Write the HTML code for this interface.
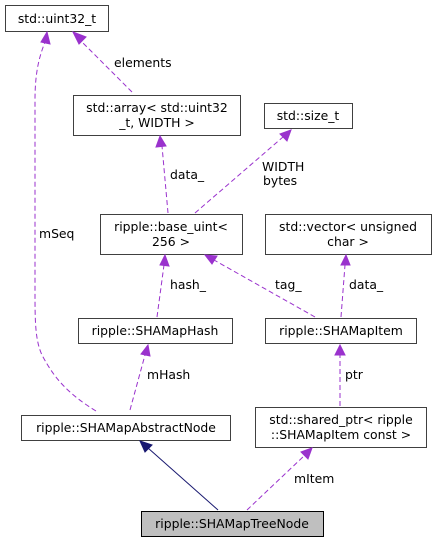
<!DOCTYPE html>
<html><head><meta charset="utf-8"><style>
body{margin:0;background:#fff}
text{font-family:"DejaVu Sans","Liberation Sans",sans-serif;font-size:12.4px;fill:#000}
.b{fill:#fff;stroke:#404040;stroke-width:1}
.d{fill:none;stroke:#9a32cd;stroke-width:1;stroke-dasharray:5,3}
.a{fill:#9a32cd;stroke:#9a32cd}
</style></head><body>
<svg width="437" height="543" viewBox="0 0 437 543" xmlns="http://www.w3.org/2000/svg">
<rect class="b" x="5.5" y="5.5" width="103" height="26"/>
<text x="57" y="23" text-anchor="middle">std::uint32_t</text>
<rect class="b" x="73.5" y="95.5" width="167" height="40"/>
<text x="157" y="112" text-anchor="middle">std::array&lt; std::uint32</text>
<text x="157" y="127" text-anchor="middle">_t, WIDTH &gt;</text>
<rect class="b" x="264.5" y="103.5" width="88" height="25"/>
<text x="308" y="120" text-anchor="middle">std::size_t</text>
<rect class="b" x="100.5" y="214.5" width="142" height="40"/>
<text x="171" y="231" text-anchor="middle">ripple::base_uint&lt;</text>
<text x="171" y="246" text-anchor="middle">256 &gt;</text>
<rect class="b" x="265.5" y="214.5" width="166" height="40"/>
<text x="348" y="231" text-anchor="middle">std::vector&lt; unsigned</text>
<text x="348" y="246" text-anchor="middle">char &gt;</text>
<rect class="b" x="78.5" y="318.5" width="154" height="25"/>
<text x="155" y="335" text-anchor="middle">ripple::SHAMapHash</text>
<rect class="b" x="265.5" y="318.5" width="151" height="25"/>
<text x="341" y="335" text-anchor="middle">ripple::SHAMapItem</text>
<rect class="b" x="21.5" y="415.5" width="209" height="25"/>
<text x="126" y="432" text-anchor="middle">ripple::SHAMapAbstractNode</text>
<rect class="b" x="255.5" y="407.5" width="171" height="40"/>
<text x="341" y="424" text-anchor="middle">std::shared_ptr&lt; ripple</text>
<text x="341" y="439" text-anchor="middle">::SHAMapItem const &gt;</text>
<rect x="141.5" y="511.5" width="182" height="25" fill="#bfbfbf" stroke="#000"/>
<text x="232" y="528" text-anchor="middle">ripple::SHAMapTreeNode</text>
<path class="d" d="M132,92 L80,40"/><polygon class="a" points="73,32 86,37 79,44"/>
<text x="114" y="67">elements</text>
<path class="d" d="M168,213 L162,146"/><polygon class="a" points="160,136 166,146 156,147"/>
<text x="170" y="179">data_</text>
<path class="d" d="M195,213 L283,137"/><polygon class="a" points="291,130 287,141 280,134"/>
<text x="262" y="171">WIDTH</text><text x="263" y="185">bytes</text>
<path class="d" d="M96,411 C70,395 55,380 42,355 C35,340 35,320 35,290 L35,100 C35,70 40,55 45,42"/><polygon class="a" points="47,32 50,44 41,42"/>
<text x="39" y="238">mSeq</text>
<path class="d" d="M315,317 L214,260"/><polygon class="a" points="205,255 217,256 212,264"/>
<text x="275" y="289">tag_</text>
<path class="d" d="M341,317 L345,265"/><polygon class="a" points="346,255 350,265 341,265"/>
<text x="349" y="289">data_</text>
<path class="d" d="M157,317 L164,265"/><polygon class="a" points="165,255 169,266 160,265"/>
<text x="170" y="289">hash_</text>
<path class="d" d="M130,410 L145,355"/><polygon class="a" points="148,345 150,356 141,354"/>
<text x="147" y="379">mHash</text>
<path class="d" d="M340,406 L340,355"/><polygon class="a" points="340,345 345,355 335,355"/>
<text x="345" y="379">ptr</text>
<path class="d" d="M247,510 L305,455"/><polygon class="a" points="312,448 308,459 301,452"/>
<text x="294" y="483">mItem</text>
<path d="M218,510 L148,448" stroke="#191970" stroke-width="1" fill="none"/><polygon points="140,441 152,445 145,452" fill="#191970" stroke="#191970"/>
</svg>
</body></html>
